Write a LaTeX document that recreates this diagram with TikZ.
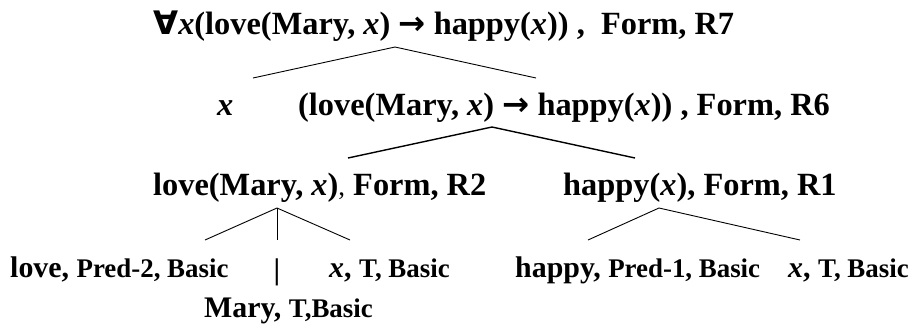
\documentclass[tikz,border=0pt]{standalone}
\usepackage{fontspec}
\setmainfont{Liberation Serif}
\newfontfamily\symfont{DejaVu Sans}
\usepackage{tikz}
\usetikzlibrary{positioning}
\newcommand{\vx}{\textbf{\textit{x}}}
\newcommand{\fa}{{\symfont\bfseries ∀}}
\newcommand{\ar}{{\symfont\bfseries →}}
\newcommand{\sm}[1]{{\fontsize{27}{30}\selectfont #1}}
\tikzset{
  lbl/.style={inner sep=0pt,anchor=base west,
              font=\fontsize{32.5}{36}\selectfont\bfseries},
  leaf/.style={lbl,font=\fontsize{30}{34}\selectfont\bfseries},
  edge/.style={line width=#1,black},
  edge/.default=0.9bp,
}
\begin{document}
\begin{tikzpicture}[x=1bp,y=-1bp]
  \useasboundingbox (0,0) rectangle (919,323);
  % formulas, top down
  \node[lbl] (r7) at (153,34)
    {\fa\vx(love(Mary, \vx) \ar{} happy(\vx)) ,\ \ Form, R7};
  \node[lbl] (xv) at (217,115) {\vx};
  \node[lbl] (r6) at (298,115)
    {(love(Mary, \vx) \ar{} happy(\vx)) , Form, R6};
  \node[lbl] (r2) at (153,195) {love(Mary, \vx){\mdseries\sm{,}} Form, R2};
  \node[lbl] (r1) at (563,195) {happy(\vx), Form, R1};
  % basic symbols
  \node[leaf] (lv) at (10,277) {love, \sm{Pred-2, Basic}};
  \node[leaf,anchor=base] (bar) at (277,279) {|};
  \node[leaf] (xb) at (329,277) {\vx, \sm{T, Basic}};
  \node[leaf] (my) at (204,317) {Mary, \sm{T,Basic}};
  \node[leaf] (hp) at (515,277) {happy, \sm{Pred-1, Basic}};
  \node[leaf] (xc) at (788,277) {\vx, \sm{T, Basic}};
  % branch points
  \coordinate (t7) at (395,47);
  \coordinate (t7l) at (253,78);
  \coordinate (t7r) at (536,78);
  \coordinate (t6) at (492,127);
  \coordinate (t6l) at (348,158);
  \coordinate (t6r) at (635,158);
  \coordinate (t2) at (277,208);
  \coordinate (t2l) at (205,240);
  \coordinate (t2m) at (277,240);
  \coordinate (t2r) at (350,240);
  \coordinate (t1) at (659,208);
  \coordinate (t1l) at (588,240);
  \coordinate (t1r) at (800,240);
  \draw[edge] (t7l) -- (t7) -- (t7r);
  \draw[edge=1.4bp] (t6l) -- (t6) -- (t6r);
  \draw[edge] (t2l) -- (t2) -- (t2r);
  \draw[edge] (t2) -- (t2m);
  \draw[edge] (t1l) -- (t1) -- (t1r);
\end{tikzpicture}
\end{document}
